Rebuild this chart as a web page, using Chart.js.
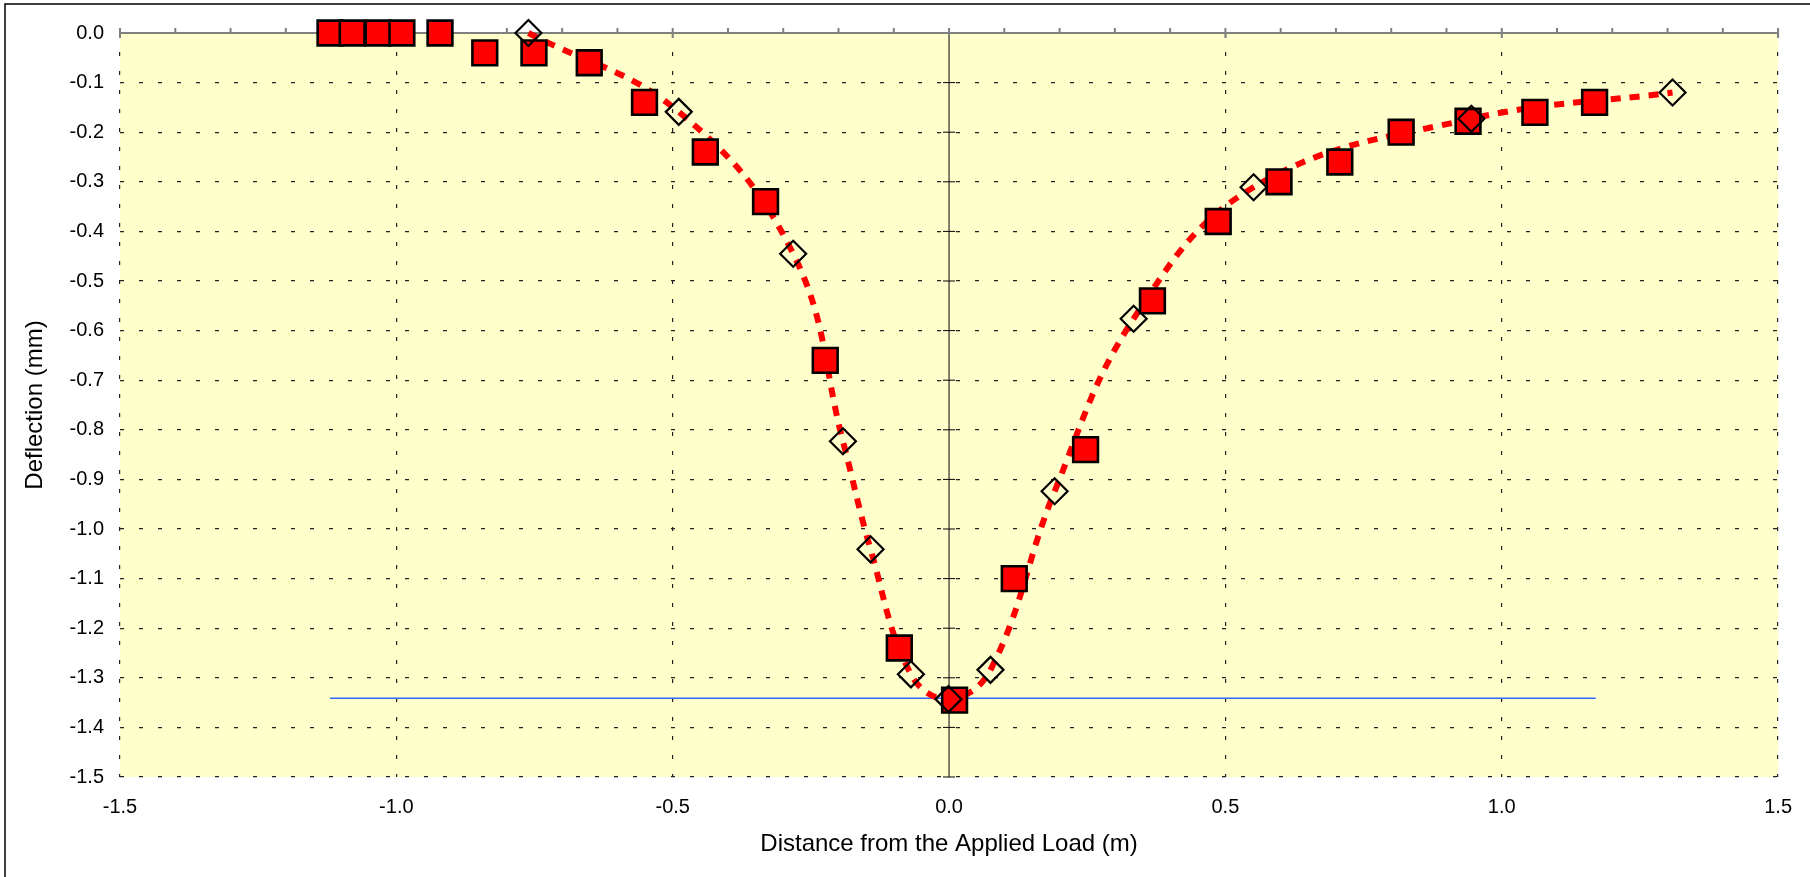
<!DOCTYPE html>
<html>
<head>
<meta charset="utf-8">
<script src="https://cdn.jsdelivr.net/npm/chart.js@4.4.1/dist/chart.umd.min.js"></script>
<style>
  html, body { margin: 0; padding: 0; background: #fff; }
  #wrap { width: 1810px; height: 877px; }
</style>
</head>
<body>
<div id="wrap"><canvas id="deflectionChart" width="1810" height="877"></canvas></div>
<script>
// measured deflections (red squares)
const measuredX = [-1.12, -1.08, -1.033, -0.99, -0.921, -0.84, -0.751, -0.651, -0.551, -0.441,
  -0.332, -0.224, -0.09, 0.01, 0.118, 0.247, 0.368, 0.487, 0.597, 0.707, 0.818, 0.939, 1.06, 1.168];
const measuredY = [0, 0, 0, 0, 0, -0.04, -0.04, -0.06, -0.14, -0.24,
  -0.34, -0.66, -1.24, -1.345, -1.10, -0.84, -0.54, -0.38, -0.30, -0.26, -0.20, -0.178, -0.16, -0.14];

// predicted deflections (open diamonds, dashed curve)
const predictedX = [-0.761, -0.489, -0.282, -0.192, -0.142, -0.069, -0.001, 0.075, 0.191, 0.334, 0.551, 0.945, 1.309];
const predictedY = [0, -0.159, -0.445, -0.823, -1.041, -1.293, -1.343, -1.284, -0.924, -0.576, -0.311, -0.173, -0.12];

// maximum deflection reference line
const maxLineX = [-1.12, 1.17];
const maxLineY = [-1.341, -1.341];

const xTickValues = [-1.5, -1.0, -0.5, 0.0, 0.5, 1.0, 1.5];
const yTickValues = [0.0, -0.1, -0.2, -0.3, -0.4, -0.5, -0.6, -0.7, -0.8, -0.9, -1.0, -1.1, -1.2, -1.3, -1.4, -1.5];

const FONT = '"Liberation Sans", Arial, sans-serif';

function toPoints(xs, ys) {
  return xs.map((x, i) => ({ x: x, y: ys[i] }));
}

function fmt(v) {
  return Math.abs(v) < 1e-9 ? '0.0' : v.toFixed(1);
}

const plotDecor = {
  id: 'plotDecor',
  beforeDraw(chart) {
    const { ctx, chartArea: a } = chart;
    ctx.save();
    ctx.fillStyle = '#ffffcc';
    ctx.fillRect(a.left, a.top, a.right - a.left, a.bottom - a.top);
    // outer frame (only top and left edges are in view)
    ctx.strokeStyle = '#000';
    ctx.lineWidth = 1.5;
    ctx.beginPath();
    ctx.moveTo(5, chart.height);
    ctx.lineTo(5, 4);
    ctx.lineTo(chart.width, 4);
    ctx.stroke();
    ctx.restore();
  },
  beforeDatasetsDraw(chart) {
    const { ctx, chartArea: a, scales: { x, y } } = chart;
    const x0 = x.getPixelForValue(0);
    const y0 = y.getPixelForValue(0);
    ctx.save();
    // vertical axis through x = 0
    ctx.strokeStyle = '#000';
    ctx.lineWidth = 1;
    ctx.beginPath();
    ctx.moveTo(x0, a.top);
    ctx.lineTo(x0, a.bottom);
    yTickValues.forEach(v => {
      const py = y.getPixelForValue(v);
      ctx.moveTo(x0 - 6, py);
      ctx.lineTo(x0 + 6, py);
    });
    ctx.stroke();
    // horizontal axis through y = 0
    ctx.strokeStyle = '#808080';
    ctx.lineWidth = 2;
    ctx.beginPath();
    ctx.moveTo(a.left, y0);
    ctx.lineTo(a.right, y0);
    for (let i = -15; i <= 15; i++) {
      const px = x.getPixelForValue(i / 10);
      if (i % 5 === 0) {
        ctx.moveTo(px, y0 - 5);
        ctx.lineTo(px, y0 + 5);
      } else {
        ctx.moveTo(px, y0 - 5);
        ctx.lineTo(px, y0);
      }
    }
    ctx.stroke();
    ctx.restore();
  }
};

const ctx = document.getElementById('deflectionChart').getContext('2d');

new Chart(ctx, {
  type: 'scatter',
  data: {
    datasets: [
      {
        label: 'Predicted',
        data: toPoints(predictedX, predictedY),
        showLine: false,
        pointStyle: 'rectRot',
        pointRadius: 13,
        pointBorderWidth: 2.2,
        pointBorderColor: '#000',
        pointBackgroundColor: 'rgba(0,0,0,0)',
        clip: false
      },
      {
        label: 'Measured',
        data: toPoints(measuredX, measuredY),
        showLine: false,
        pointStyle: 'rect',
        pointRadius: 17.5,
        pointBorderWidth: 2.6,
        pointBorderColor: '#000',
        pointBackgroundColor: '#ff0000',
        clip: false
      },
      {
        label: 'Predicted curve',
        data: toPoints(predictedX, predictedY),
        showLine: true,
        borderColor: '#ff0000',
        borderWidth: 6,
        borderDash: [10, 9],
        tension: 0.4,
        pointRadius: 0,
        clip: false
      },
      {
        label: 'Max deflection',
        data: toPoints(maxLineX, maxLineY),
        showLine: true,
        borderColor: '#3366ff',
        borderWidth: 1.5,
        pointRadius: 0,
        clip: false
      }
    ]
  },
  options: {
    responsive: false,
    animation: false,
    events: [],
    layout: { padding: { top: 33, right: 27, left: 0, bottom: 0 } },
    plugins: {
      legend: { display: false },
      tooltip: { enabled: false }
    },
    scales: {
      x: {
        type: 'linear',
        min: -1.5,
        max: 1.5,
        afterBuildTicks: s => { s.ticks = xTickValues.map(v => ({ value: v })); },
        afterFit: s => { s.height = 100; },
        grid: {
          color: c => (c.tick && c.tick.value === 0 ? 'rgba(0,0,0,0)' : '#222'),
          lineWidth: 1.2,
          drawTicks: false
        },
        border: { display: false, dash: [4, 15] },
        ticks: {
          padding: 18,
          color: '#000',
          font: { family: FONT, size: 20 },
          maxRotation: 0,
          callback: v => fmt(v)
        },
        title: {
          display: true,
          text: 'Distance from the Applied Load (m)',
          color: '#000',
          font: { family: FONT, size: 24 },
          padding: { top: 0, bottom: 18.6 }
        }
      },
      y: {
        type: 'linear',
        min: -1.5,
        max: 0,
        afterBuildTicks: s => { s.ticks = yTickValues.map(v => ({ value: v })); },
        afterFit: s => { s.width = 120; },
        grid: {
          color: '#222',
          lineWidth: 1.2,
          drawTicks: false
        },
        border: { display: false, dash: [4, 15] },
        ticks: {
          padding: 16,
          color: '#000',
          font: { family: FONT, size: 20 },
          callback: v => fmt(v)
        },
        title: {
          display: true,
          text: 'Deflection (mm)',
          color: '#000',
          font: { family: FONT, size: 24 },
          padding: { top: 20.6, bottom: 0 }
        }
      }
    }
  },
  plugins: [plotDecor]
});
</script>
</body>
</html>
